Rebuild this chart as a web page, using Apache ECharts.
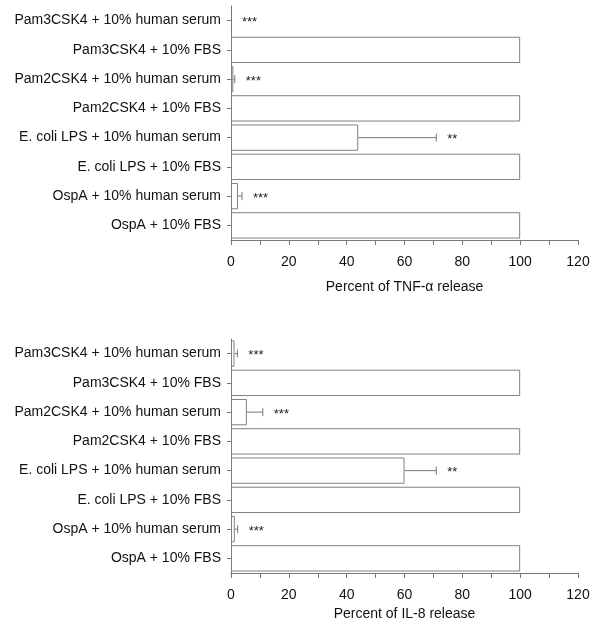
<!DOCTYPE html>
<html>
<head>
<meta charset="utf-8">
<script src="https://cdn.jsdelivr.net/npm/echarts@6/dist/echarts.min.js"></script>
<style>
  html, body { margin: 0; padding: 0; background: #fff; }
  #chart { width: 600px; height: 640px; }
</style>
</head>
<body>
<div id="chart"></div>
<script>
const categories = [
  'Pam3CSK4 + 10% human serum',
  'Pam3CSK4 + 10% FBS',
  'Pam2CSK4 + 10% human serum',
  'Pam2CSK4 + 10% FBS',
  'E. coli LPS + 10% human serum',
  'E. coli LPS + 10% FBS',
  'OspA + 10% human serum',
  'OspA + 10% FBS'
]

// TNF-alpha panel (top)
const tnfValues = [0, 100, 0.8, 100, 44, 100, 2.4, 100]
const tnfErrors = [0, 0, 0.5, 0, 27, 0, 1.4, 0]
const tnfStars = ['***', '', '***', '', '**', '', '***', '']

// IL-8 panel (bottom)
const il8Values = [1.2, 100, 5.5, 100, 60, 100, 1.3, 100]
const il8Errors = [1, 0, 5.5, 0, 11, 0, 1, 0]
const il8Stars = ['***', '', '***', '', '**', '', '***', '']

const font = 'Liberation Sans, Arial, Helvetica, sans-serif'
const axisColor = '#777'
const barBorder = '#808080'

const chart = echarts.init(document.getElementById('chart'))

// series index -> star labels
const starsBySeries = { 2: tnfStars, 3: il8Stars }

function errorItems(values, errors) {
  return values.map((v, i) => [i, v, errors[i]])
}

function renderError(params, api) {
  const idx = api.value(0)
  const v = api.value(1)
  const err = api.value(2)
  const star = starsBySeries[params.seriesIndex][idx]
  const start = api.coord([v, idx])
  const end = api.coord([v + err, idx])
  const children = []
  if (err > 0) {
    children.push({
      type: 'line',
      shape: { x1: start[0], y1: start[1], x2: end[0], y2: end[1] },
      style: { stroke: '#777', lineWidth: 1 }
    })
    children.push({
      type: 'line',
      shape: { x1: end[0], y1: end[1] - 4, x2: end[0], y2: end[1] + 4 },
      style: { stroke: '#777', lineWidth: 1 }
    })
  }
  if (star) {
    children.push({
      type: 'text',
      x: end[0] + 11,
      y: end[1] + 2,
      style: {
        text: star,
        fill: '#222',
        font: '13px ' + font,
        verticalAlign: 'middle'
      }
    })
  }
  return { type: 'group', children: children }
}

function xAxisFor(gridIndex, name, nameGap) {
  return {
    gridIndex: gridIndex,
    type: 'value',
    min: 0,
    max: 120,
    interval: 20,
    name: name,
    nameLocation: 'middle',
    nameGap: nameGap,
    nameTextStyle: { color: '#111', fontSize: 14, fontFamily: font },
    axisLine: { show: true, lineStyle: { color: axisColor } },
    axisTick: { show: true, length: 5, lineStyle: { color: axisColor } },
    minorTick: { show: true, splitNumber: 2, length: 5, lineStyle: { color: axisColor } },
    axisLabel: { color: '#111', fontSize: 14, fontFamily: font, margin: 15 },
    splitLine: { show: false }
  }
}

function yAxisFor(gridIndex) {
  return {
    gridIndex: gridIndex,
    type: 'category',
    data: categories,
    inverse: true,
    axisLine: { show: true, onZero: false, lineStyle: { color: axisColor } },
    axisTick: { show: true, alignWithLabel: true, length: 4, lineStyle: { color: axisColor } },
    axisLabel: { color: '#111', fontSize: 14, fontFamily: font, margin: 10 },
    splitLine: { show: false }
  }
}

function barSeries(axisIndex, values) {
  return {
    type: 'bar',
    xAxisIndex: axisIndex,
    yAxisIndex: axisIndex,
    data: values.map(v => (v > 0 ? v : null)),
    barCategoryGap: '10%',
    itemStyle: { color: '#fff', borderColor: barBorder, borderWidth: 1 },
    silent: true
  }
}

function errorSeries(axisIndex, values, errors) {
  return {
    type: 'custom',
    xAxisIndex: axisIndex,
    yAxisIndex: axisIndex,
    data: errorItems(values, errors),
    encode: { x: 1, y: 0 },
    renderItem: renderError,
    silent: true,
    z: 5
  }
}

const option = {
  backgroundColor: '#fff',
  animation: false,
  grid: [
    { left: 231, right: 22, top: 6, height: 234 },
    { left: 231, right: 22, top: 339, height: 234 }
  ],
  xAxis: [
    xAxisFor(0, 'Percent of TNF-\u03b1 release', 40),
    xAxisFor(1, 'Percent of IL-8 release', 34)
  ],
  yAxis: [yAxisFor(0), yAxisFor(1)],
  series: [
    barSeries(0, tnfValues),
    barSeries(1, il8Values),
    errorSeries(0, tnfValues, tnfErrors),
    errorSeries(1, il8Values, il8Errors)
  ]
}

chart.setOption(option)
</script>
</body>
</html>
